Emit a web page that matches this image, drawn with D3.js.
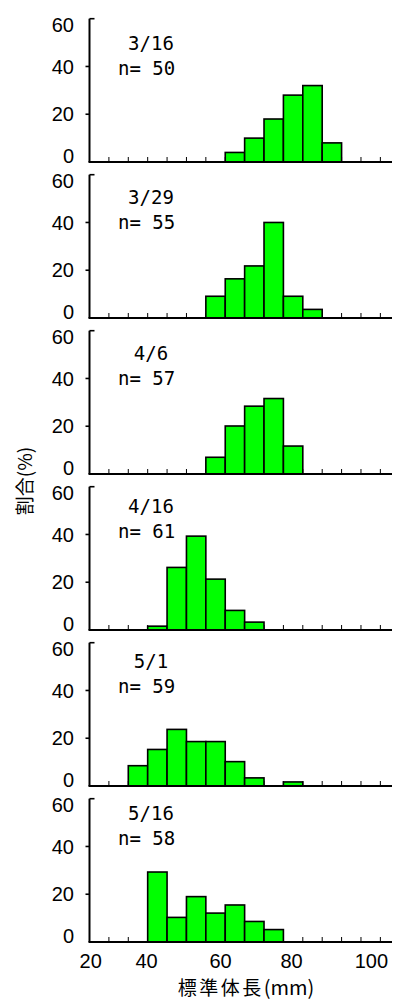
<!DOCTYPE html>
<html>
<head>
<meta charset="utf-8">
<script src="https://cdn.jsdelivr.net/npm/d3@7"></script>
<style>
  html, body { margin: 0; padding: 0; background: #fff; }
  svg { display: block; }
</style>
</head>
<body>
<div id="chart"></div>
<script>
// Bin start (mm), 5 mm wide bins
const bins = [35, 40, 45, 50, 55, 60, 65, 70, 75, 80, 85, 90];

// Sampling dates and sample sizes
const dates = ['3/16', '3/29', '4/6', '4/16', '5/1', '5/16'];
const sampleSizes = [50, 55, 57, 61, 59, 58];

// Percent per bin, one array per date
const mar16 = [0, 0, 0, 0, 0, 4, 10, 18, 28, 32, 8, 0];
const mar29 = [0, 0, 0, 0, 9.1, 16.4, 21.8, 40, 9.1, 3.6, 0, 0];
const apr06 = [0, 0, 0, 0, 7.0, 20.1, 28.4, 31.6, 11.7, 0, 0, 0];
const apr16 = [0, 1.6, 26.2, 39.3, 21.3, 8.2, 3.3, 0, 0, 0, 0, 0];
const may01 = [8.5, 15.3, 23.7, 18.6, 18.6, 10.2, 3.4, 0, 1.7, 0, 0, 0];
const may16 = [0, 29.3, 10.3, 19.0, 12.1, 15.5, 8.6, 5.2, 0, 0, 0, 0];
const series = [mar16, mar29, apr06, apr16, may01, may16];

// Axis ticks and labels
const yTicks = [0, 20, 40, 60];
const xMinorTicks = d3.range(30, 101, 5);
const xTickLabels = [20, 40, 60, 80, 100];
// where each x label sits along the mm axis (labels are not evenly placed)
const xLabelAt = [25.3, 39.7, 58.8, 77.1, 97.7];

const CONFIG = {
  width: 395,
  height: 1001,
  axisLeft: 89.5,
  axisRight: 392,
  firstBase: 162,
  panelStep: 156,
  panelHeight: 143.3,
  binWidth: 5,
  labelDy: [31.7, 29.3, 29.3, 26.7, 25, 21.7],
  colors: {
    bar: '#00ff00',
    ink: '#000'
  },
  fonts: {
    tick: '"Liberation Sans", Arial, sans-serif',
    note: '"DejaVu Sans Mono", monospace',
    title: '"Noto Sans CJK JP", sans-serif'
  }
};

const svg = d3.select('#chart')
  .append('svg')
  .attr('width', CONFIG.width)
  .attr('height', CONFIG.height);

const x = d3.scaleLinear()
  .domain([25, 103])
  .range([CONFIG.axisLeft, CONFIG.axisRight]);

/**
 * Draw one histogram panel
 */
function drawPanel(i) {
  const base = CONFIG.firstBase + i * CONFIG.panelStep;
  const y = d3.scaleLinear()
    .domain([0, 60])
    .range([base, base - CONFIG.panelHeight]);
  const top = y(60);

  const g = svg.append('g').attr('class', `panel panel-${i}`);

  // x minor ticks (pointing up)
  g.append('g')
    .selectAll('line')
    .data(xMinorTicks)
    .join('line')
    .attr('x1', d => x(d))
    .attr('x2', d => x(d))
    .attr('y1', base)
    .attr('y2', base - 5)
    .attr('stroke', CONFIG.colors.ink)
    .attr('stroke-width', 1);

  // bars
  const barData = bins.map((b, k) => ({ start: b, value: series[i][k] }))
    .filter(d => d.value > 0);

  g.append('g')
    .selectAll('rect')
    .data(barData)
    .join('rect')
    .attr('x', d => x(d.start))
    .attr('width', d => x(d.start + CONFIG.binWidth) - x(d.start))
    .attr('y', d => y(d.value))
    .attr('height', d => base - y(d.value))
    .attr('fill', CONFIG.colors.bar)
    .attr('stroke', CONFIG.colors.ink)
    .attr('stroke-width', 1.6);

  // x axis line
  g.append('line')
    .attr('x1', CONFIG.axisLeft - 1)
    .attr('x2', CONFIG.axisRight)
    .attr('y1', base)
    .attr('y2', base)
    .attr('stroke', CONFIG.colors.ink)
    .attr('stroke-width', 2.2);

  // y axis line
  g.append('line')
    .attr('x1', CONFIG.axisLeft)
    .attr('x2', CONFIG.axisLeft)
    .attr('y1', top)
    .attr('y2', base)
    .attr('stroke', CONFIG.colors.ink)
    .attr('stroke-width', 2);

  // y ticks: top one points inward, the rest outward
  g.append('g')
    .selectAll('line')
    .data(yTicks.filter(d => d > 0))
    .join('line')
    .attr('x1', CONFIG.axisLeft)
    .attr('x2', d => d === 60 ? CONFIG.axisLeft + 5 : CONFIG.axisLeft - 4)
    .attr('y1', d => y(d))
    .attr('y2', d => y(d))
    .attr('stroke', CONFIG.colors.ink)
    .attr('stroke-width', 1.6);

  // y tick labels, kept inside the panel
  g.append('g')
    .selectAll('text')
    .data(yTicks)
    .join('text')
    .attr('x', 74)
    .attr('y', d => Math.min(Math.max(y(d), top + 6.3), base - 6))
    .attr('dy', '0.36em')
    .attr('text-anchor', 'end')
    .attr('font-family', CONFIG.fonts.tick)
    .attr('font-size', 20)
    .text(d => d);

  // date and n
  const noteY = top + CONFIG.labelDy[i];
  g.append('text')
    .attr('x', 151)
    .attr('y', noteY)
    .attr('text-anchor', 'middle')
    .attr('font-family', CONFIG.fonts.note)
    .attr('font-size', 19)
    .text(dates[i]);

  g.append('text')
    .attr('x', 118)
    .attr('y', noteY + 25)
    .attr('font-family', CONFIG.fonts.note)
    .attr('font-size', 19)
    .attr('xml:space', 'preserve')
    .text(`n= ${sampleSizes[i]}`);

  return base;
}

let lastBase = 0;
dates.forEach((d, i) => { lastBase = drawPanel(i); });

// x tick labels under the last panel
const xLabelPos = d3.scaleLinear()
  .domain(xTickLabels)
  .range(xLabelAt.map(v => x(v)));

svg.append('g')
  .selectAll('text')
  .data(xTickLabels)
  .join('text')
  .attr('x', d => xLabelPos(d))
  .attr('y', lastBase + 26)
  .attr('text-anchor', 'middle')
  .attr('font-family', CONFIG.fonts.tick)
  .attr('font-size', 20)
  .text(d => d);

// axis titles
const xTitle = svg.append('text')
  .attr('x', 246)
  .attr('y', 995)
  .attr('text-anchor', 'middle')
  .attr('font-family', CONFIG.fonts.title)
  .attr('font-size', 19);
xTitle.append('tspan').attr('letter-spacing', 2.5).text('標準体長');
xTitle.append('tspan').attr('font-size', 20).text('(mm)');

svg.append('text')
  .attr('transform', 'translate(32,481) rotate(-90)')
  .attr('text-anchor', 'middle')
  .attr('font-family', CONFIG.fonts.title)
  .attr('font-size', 19)
  .text('割合(%)');
</script>
</body>
</html>
